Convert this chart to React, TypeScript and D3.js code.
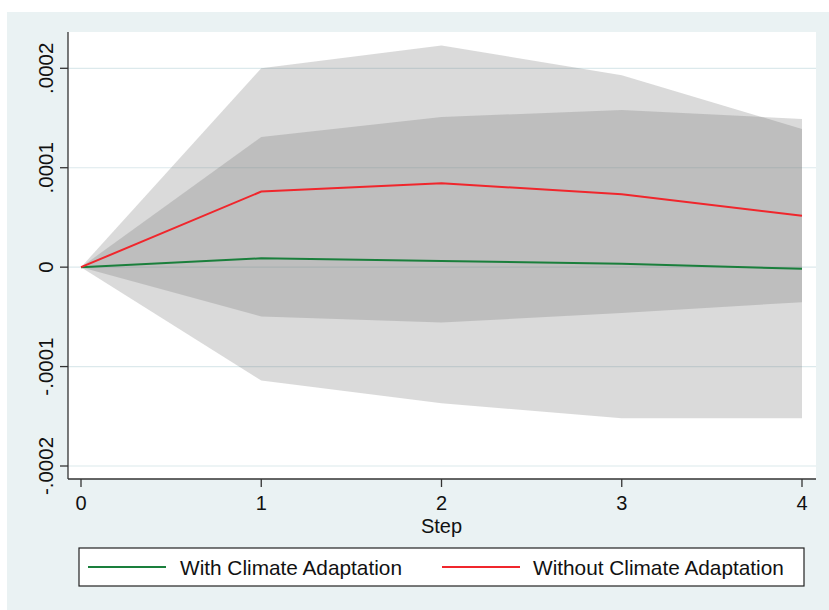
import React from "react";
import * as d3 from "d3";

const steps = [0, 1, 2, 3, 4];
const withIrf = [0, 0.0000089, 0.0000063, 0.0000033, -0.0000017];
const withLo = [0, -0.000114, -0.000137, -0.000152, -0.000152];
const withHi = [0, 0.000131, 0.000151, 0.000158, 0.000149];
const withoutIrf = [0, 0.000076, 0.0000844, 0.0000734, 0.0000516];
const withoutLo = [0, -0.0000496, -0.0000556, -0.0000462, -0.0000352];
const withoutHi = [0, 0.0002, 0.000223, 0.000193, 0.000139];
const yTicks = [0.0002, 0.0001, 0, -0.0001, -0.0002];
const yTickLabels = [".0002", ".0001", "0", "-.0001", "-.0002"];
const xTickLabels = ["0", "1", "2", "3", "4"];
const seriesNames = ["With Climate Adaptation", "Without Climate Adaptation"];

const W = 829;
const H = 610;
const plotL = 68;
const plotR = 816;
const plotT = 32;
const plotB = 479;
const FONT = "'Liberation Sans', Arial, Helvetica, sans-serif";
const GREEN = "#1a7f3c";
const RED = "#f0262c";

export default function App() {
  const x = d3.scaleLinear().domain([0, 4]).range([81, 802]);
  const y = d3.scaleLinear().domain([-0.0002, 0.0002]).range([466, 68.3]);

  const band = (lo: number[], hi: number[]) =>
    d3
      .area<number>()
      .x((d) => x(d))
      .y0((_, i) => y(lo[i]))
      .y1((_, i) => y(hi[i]))(steps) as string;

  const line = (vals: number[]) =>
    d3
      .line<number>()
      .x((d) => x(d))
      .y((_, i) => y(vals[i]))(steps) as string;

  return (
    <svg
      width={W}
      height={H}
      style={{ position: "absolute", left: 0, top: 0, display: "block" }}
    >
      <rect x={0} y={0} width={W} height={H} fill="#ffffff" />
      <rect x={7} y={12} width={W - 7} height={H - 12} fill="#eaf2f3" />
      <rect x={plotL} y={plotT} width={plotR - plotL} height={plotB - plotT} fill="#ffffff" />
      {yTicks.map((t, i) => (
        <line
          key={"g" + i}
          x1={plotL}
          x2={plotR}
          y1={y(t)}
          y2={y(t)}
          stroke="#dce9ec"
          strokeWidth={1.2}
        />
      ))}
      <path d={band(withoutLo, withoutHi)} fill="#6f6f6f" fillOpacity={0.26} />
      <path d={band(withLo, withHi)} fill="#6f6f6f" fillOpacity={0.26} />
      <path d={line(withIrf)} fill="none" stroke={GREEN} strokeWidth={2} />
      <path d={line(withoutIrf)} fill="none" stroke={RED} strokeWidth={2} />
      <line x1={plotL} x2={plotL} y1={plotT} y2={plotB} stroke="#333" strokeWidth={1.3} />
      <line x1={plotL} x2={plotR} y1={plotB} y2={plotB} stroke="#333" strokeWidth={1.3} />
      {yTicks.map((t, i) => (
        <g key={"yt" + i}>
          <line x1={60} x2={plotL} y1={y(t)} y2={y(t)} stroke="#333" strokeWidth={1.3} />
          <text
            transform={`translate(53,${y(t)}) rotate(-90)`}
            textAnchor="middle"
            fontFamily={FONT}
            fontSize={20.5}
            fill="#111"
          >
            {yTickLabels[i]}
          </text>
        </g>
      ))}
      {steps.map((s, i) => (
        <g key={"xt" + i}>
          <line x1={x(s)} x2={x(s)} y1={plotB} y2={487} stroke="#333" strokeWidth={1.3} />
          <text
            x={x(s)}
            y={509.5}
            textAnchor="middle"
            fontFamily={FONT}
            fontSize={20}
            fill="#111"
          >
            {xTickLabels[i]}
          </text>
        </g>
      ))}
      <text x={x(2)} y={533} textAnchor="middle" fontFamily={FONT} fontSize={20} fill="#111">
        Step
      </text>
      <rect x={79} y={548} width={725} height={38} fill="#ffffff" stroke="#222" strokeWidth={1.2} />
      <line x1={88} x2={166} y1={567} y2={567} stroke={GREEN} strokeWidth={2} />
      <text x={180} y={575} fontFamily={FONT} fontSize={20.8} fill="#111">
        {seriesNames[0]}
      </text>
      <line x1={442} x2={520} y1={567} y2={567} stroke={RED} strokeWidth={2} />
      <text x={533} y={575} fontFamily={FONT} fontSize={20.8} fill="#111">
        {seriesNames[1]}
      </text>
    </svg>
  );
}
